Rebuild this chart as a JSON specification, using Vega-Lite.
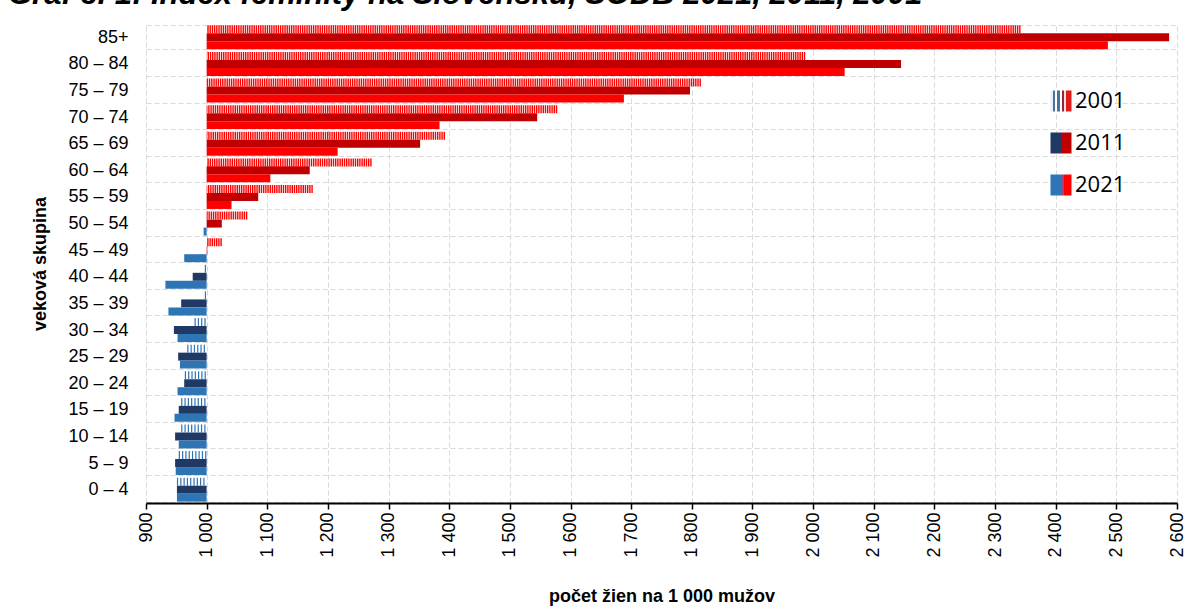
{
  "$schema": "https://vega.github.io/schema/vega-lite/v6.json",
  "width": 1031,
  "height": 479,
  "autosize": {"type": "none"},
  "padding": {"left": 146, "top": 24, "right": 23, "bottom": 105},
  "background": "white",
  "title": {
    "text": "Graf č. 1: Index feminity na Slovensku, SODB 2021, 2011, 2001",
    "anchor": "start",
    "frame": "group",
    "dx": -138,
    "dy": 30,
    "offset": 10,
    "baseline": "alphabetic",
    "font": "Liberation Sans",
    "fontSize": 31,
    "fontWeight": "bold",
    "fontStyle": "italic",
    "color": "black"
  },
  "data": {
    "values": [
      {"vek": "85+", "rok": "2001", "index": 2342}, {"vek": "85+", "rok": "2011", "index": 2587}, {"vek": "85+", "rok": "2021", "index": 2486},
      {"vek": "80 – 84", "rok": "2001", "index": 1987}, {"vek": "80 – 84", "rok": "2011", "index": 2145}, {"vek": "80 – 84", "rok": "2021", "index": 2052},
      {"vek": "75 – 79", "rok": "2001", "index": 1815}, {"vek": "75 – 79", "rok": "2011", "index": 1797}, {"vek": "75 – 79", "rok": "2021", "index": 1688},
      {"vek": "70 – 74", "rok": "2001", "index": 1578}, {"vek": "70 – 74", "rok": "2011", "index": 1545}, {"vek": "70 – 74", "rok": "2021", "index": 1384},
      {"vek": "65 – 69", "rok": "2001", "index": 1393}, {"vek": "65 – 69", "rok": "2011", "index": 1352}, {"vek": "65 – 69", "rok": "2021", "index": 1216},
      {"vek": "60 – 64", "rok": "2001", "index": 1272}, {"vek": "60 – 64", "rok": "2011", "index": 1170}, {"vek": "60 – 64", "rok": "2021", "index": 1105},
      {"vek": "55 – 59", "rok": "2001", "index": 1175}, {"vek": "55 – 59", "rok": "2011", "index": 1085}, {"vek": "55 – 59", "rok": "2021", "index": 1041},
      {"vek": "50 – 54", "rok": "2001", "index": 1067}, {"vek": "50 – 54", "rok": "2011", "index": 1025}, {"vek": "50 – 54", "rok": "2021", "index": 995},
      {"vek": "45 – 49", "rok": "2001", "index": 1025}, {"vek": "45 – 49", "rok": "2011", "index": 1001}, {"vek": "45 – 49", "rok": "2021", "index": 963},
      {"vek": "40 – 44", "rok": "2001", "index": 997}, {"vek": "40 – 44", "rok": "2011", "index": 977}, {"vek": "40 – 44", "rok": "2021", "index": 932},
      {"vek": "35 – 39", "rok": "2001", "index": 997}, {"vek": "35 – 39", "rok": "2011", "index": 958}, {"vek": "35 – 39", "rok": "2021", "index": 937},
      {"vek": "30 – 34", "rok": "2001", "index": 980}, {"vek": "30 – 34", "rok": "2011", "index": 946}, {"vek": "30 – 34", "rok": "2021", "index": 952},
      {"vek": "25 – 29", "rok": "2001", "index": 968}, {"vek": "25 – 29", "rok": "2011", "index": 953}, {"vek": "25 – 29", "rok": "2021", "index": 956},
      {"vek": "20 – 24", "rok": "2001", "index": 964}, {"vek": "20 – 24", "rok": "2011", "index": 963}, {"vek": "20 – 24", "rok": "2021", "index": 952},
      {"vek": "15 – 19", "rok": "2001", "index": 958}, {"vek": "15 – 19", "rok": "2011", "index": 954}, {"vek": "15 – 19", "rok": "2021", "index": 947},
      {"vek": "10 – 14", "rok": "2001", "index": 958}, {"vek": "10 – 14", "rok": "2011", "index": 948}, {"vek": "10 – 14", "rok": "2021", "index": 954},
      {"vek": "5 – 9", "rok": "2001", "index": 954}, {"vek": "5 – 9", "rok": "2011", "index": 948}, {"vek": "5 – 9", "rok": "2021", "index": 949},
      {"vek": "0 – 4", "rok": "2001", "index": 951}, {"vek": "0 – 4", "rok": "2011", "index": 951}, {"vek": "0 – 4", "rok": "2021", "index": 951}
    ]
  },
  "transform": [
    {"calculate": "(datum.index >= 1000 ? 'Ž' : 'M') + datum.rok", "as": "kat"}
  ],
  "encoding": {
    "y": {
      "field": "vek",
      "type": "nominal",
      "sort": ["85+", "80 – 84", "75 – 79", "70 – 74", "65 – 69", "60 – 64", "55 – 59", "50 – 54", "45 – 49", "40 – 44", "35 – 39", "30 – 34", "25 – 29", "20 – 24", "15 – 19", "10 – 14", "5 – 9", "0 – 4"],
      "scale": {"paddingInner": 0.1, "paddingOuter": 0.05},
      "title": "veková skupina",
      "axis": {
        "domain": false,
        "ticks": false,
        "grid": true,
        "tickBand": "extent",
        "gridColor": "#d9d9d9",
        "gridDash": [5, 3],
        "gridWidth": 1,
        "labelFont": "Liberation Sans",
        "labelFontSize": 18,
        "labelColor": "black",
        "labelPadding": 18,
        "titleFont": "Liberation Sans",
        "titleFontSize": 18,
        "titleFontWeight": "bold",
        "titleColor": "black",
        "titlePadding": 18
      }
    },
    "yOffset": {
      "field": "rok",
      "type": "nominal",
      "scale": {"domain": ["2001", "2011", "2021"], "paddingInner": 0, "paddingOuter": 0}
    },
    "x": {
      "field": "index",
      "type": "quantitative",
      "scale": {"domain": [900, 2600], "nice": false, "zero": false},
      "title": "počet žien  na 1 000 mužov",
      "axis": {
        "values": [900, 1000, 1100, 1200, 1300, 1400, 1500, 1600, 1700, 1800, 1900, 2000, 2100, 2200, 2300, 2400, 2500, 2600],
        "labelExpr": "replace(format(datum.value, ','), ',', ' ')",
        "labelAngle": 270,
        "labelFont": "Liberation Sans",
        "labelFontSize": 18,
        "labelColor": "black",
        "labelPadding": 3,
        "domainColor": "black",
        "domainWidth": 2,
        "tickColor": "black",
        "tickWidth": 1.5,
        "tickSize": 6,
        "grid": true,
        "gridColor": "#d9d9d9",
        "gridDash": [5, 3],
        "gridWidth": 1,
        "titleFont": "Liberation Sans",
        "titleFontSize": 18,
        "titleFontWeight": "bold",
        "titleColor": "black",
        "titlePadding": 30
      }
    },
    "x2": {"datum": 1000},
    "color": {
      "field": "kat",
      "type": "nominal",
      "scale": {
        "domain": ["Ž2001", "Ž2011", "Ž2021", "M2001", "M2011", "M2021"],
        "range": ["#FF0000", "#C00000", "#FF0000", "#2E75B6", "#1F3864", "#2E75B6"]
      },
      "legend": null
    }
  },
  "layer": [
    {
      "transform": [{"filter": "datum.rok != '2001'"}],
      "mark": {"type": "bar"},
      "encoding": {
        "opacity": {
          "field": "rok",
          "type": "ordinal",
          "scale": {"domain": ["2001", "2011", "2021"], "range": [1, 1, 1]},
          "legend": {
            "title": null,
            "orient": "none",
            "legendX": 904,
            "legendY": 66,
            "padding": 0,
            "symbolType": "square",
            "symbolSize": 441,
            "symbolStrokeWidth": 0,
            "labelFont": "Open Sans",
            "labelFontSize": 22,
            "labelColor": "black",
            "labelOffset": 3,
            "rowPadding": 20,
            "encoding": {
              "symbols": {
                "fill": {
                  "condition": [
                    {"test": "datum.value == '2001'", "value": {"gradient": "linear", "x1": 0, "x2": 1, "y1": 0, "y2": 0, "stops": [
                      {"offset": 0, "color": "#e8f1f8"}, {"offset": 0.1, "color": "#e8f1f8"},
                      {"offset": 0.1, "color": "#4a7397"}, {"offset": 0.22, "color": "#4a7397"},
                      {"offset": 0.22, "color": "#ffffff"}, {"offset": 0.32, "color": "#ffffff"},
                      {"offset": 0.32, "color": "#4a7397"}, {"offset": 0.44, "color": "#4a7397"},
                      {"offset": 0.44, "color": "#ffffff"}, {"offset": 0.54, "color": "#ffffff"},
                      {"offset": 0.54, "color": "#8c2a35"}, {"offset": 0.64, "color": "#8c2a35"},
                      {"offset": 0.64, "color": "#fcdcdc"}, {"offset": 0.76, "color": "#fcdcdc"},
                      {"offset": 0.76, "color": "#e31a1c"}, {"offset": 1, "color": "#e31a1c"}
                    ]}},
                    {"test": "datum.value == '2011'", "value": {"gradient": "linear", "x1": 0, "x2": 1, "y1": 0, "y2": 0, "stops": [
                      {"offset": 0, "color": "#1F3864"}, {"offset": 0.5, "color": "#1F3864"},
                      {"offset": 0.5, "color": "#C00000"}, {"offset": 1, "color": "#C00000"}
                    ]}}
                  ],
                  "value": {"gradient": "linear", "x1": 0, "x2": 1, "y1": 0, "y2": 0, "stops": [
                    {"offset": 0, "color": "#2E75B6"}, {"offset": 0.55, "color": "#2E75B6"},
                    {"offset": 0.55, "color": "#9a4a80"}, {"offset": 0.62, "color": "#9a4a80"},
                    {"offset": 0.62, "color": "#FF0000"}, {"offset": 1, "color": "#FF0000"}
                  ]}
                },
                "opacity": {"value": 1}
              }
            }
          }
        }
      }
    },
    {
      "transform": [{"filter": "datum.rok == '2001' && datum.index >= 1000"}],
      "mark": {"type": "rule", "strokeWidth": 8, "strokeDash": [1.4, 0.8], "strokeCap": "butt"},
      "encoding": {}
    },
    {
      "transform": [{"filter": "datum.rok == '2001' && datum.index < 1000"}],
      "mark": {"type": "rule", "strokeWidth": 8, "strokeDash": [1.2, 2.1], "strokeCap": "butt"},
      "encoding": {}
    }
  ],
  "config": {
    "font": "Liberation Sans",
    "view": {"stroke": null}
  }
}
